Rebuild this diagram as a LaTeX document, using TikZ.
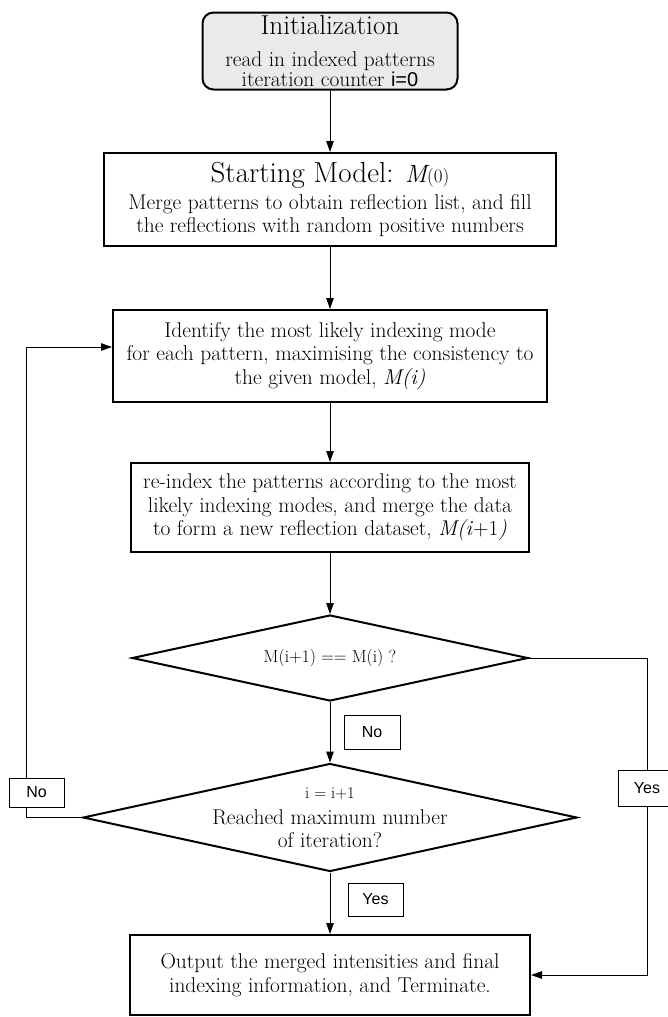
\documentclass[tikz,border=0pt]{standalone}
\usepackage{fontspec}
\setsansfont{Liberation Sans}
\usepackage{xcolor}
\usetikzlibrary{shapes.geometric, arrows.meta, positioning, calc}

\definecolor{initgray}{RGB}{234,234,234}

\tikzset{
    procbox/.style={draw, rectangle, line width=2pt, align=center, inner sep=0pt,
        font=\fontsize{21.4}{23.5}\selectfont},
    initbox/.style={procbox, rounded corners=11pt, fill=initgray},
    decbox/.style={draw, diamond, aspect=4.6, line width=2pt, align=center, inner sep=-8pt,
        font=\fontsize{21.4}{23}\selectfont},
    lblbox/.style={draw, rectangle, line width=0.8pt, fill=white, inner sep=0pt,
        minimum width=55pt, minimum height=33pt, font=\sffamily\fontsize{16}{16}\selectfont},
    conn/.style={line width=1pt},
    arr/.style={conn, -{Triangle[length=11pt,width=7.5pt]}}
}

\begin{document}
\begin{tikzpicture}[x=1pt, y=-1pt]
\useasboundingbox (0,0) rectangle (667,1017);
% Process boxes
\node[initbox, minimum width=255pt, minimum height=77pt, font=\fontsize{21.4}{18}\selectfont] (init) at (330,51)
    {{\fontsize{27.3}{27.3}\selectfont Initialization}\\[14pt]
     read in indexed patterns\\
     iteration counter \textsf{\fontsize{20}{18}\selectfont i=0}};
\node[procbox, minimum width=452pt, minimum height=93pt] (start) at (330,199.5)
    {{\fontsize{29}{29}\selectfont Starting Model: {\fontsize{25}{25}\selectfont\itshape M}{\fontsize{19}{19}\selectfont(0)}}\\[3pt]
     Merge patterns to obtain reflection list, and fill\\
     the reflections with random positive numbers};
\node[procbox, minimum width=434pt, minimum height=92pt] (ident) at (330,356)
    {Identify the most likely indexing mode\\
     for each pattern, maximising the consistency to\\
     the given model, \textit{M(i)}};
\node[procbox, minimum width=398pt, minimum height=89pt] (reidx) at (330,507.5)
    {re-index the patterns according to the most\\
     likely indexing modes, and merge the data\\
     to form a new reflection dataset, \textit{M(i}+1\textit{)}};
% Decisions
\node[decbox, minimum width=396pt, minimum height=86pt, font=\fontsize{17.5}{20}\selectfont] (dec1) at (330,658)
    {M(i+1) == M(i) ?};
\node[decbox, minimum width=494pt, minimum height=108pt] (dec2) at (330,817.5)
    {{\fontsize{16.5}{16.5}\selectfont i = i+1}\\[3pt]
     Reached maximum number\\
     of iteration?};
% Final box
\node[procbox, minimum width=400pt, minimum height=80pt] (out) at (330,975)
    {Output the merged intensities and final\\
     indexing information, and Terminate.};
% Main flow
\foreach \a/\b in {init/start, start/ident, ident/reidx, reidx/dec1, dec1/dec2, dec2/out}
    \draw[arr] (\a) -- (\b);
% Side loops
\coordinate (noline) at (26,0);
\coordinate (yesline) at (647,0);
\coordinate (back) at ([yshift=9pt]ident.west);
\draw[arr] (dec2.west) -| (noline |- back) -- (back);
\draw[arr] (dec1.east) -| (yesline |- out.east) -- (out.east);
% Labels
\node[lblbox, minimum width=56pt, minimum height=34pt] (no1) at (372,732) {No};
\node[lblbox] (yes1) at (375.5,899.5) {Yes};
\node[lblbox, minimum height=29pt] (no2) at (36.5,792.5) {No};
\node[lblbox, minimum width=58pt, minimum height=36pt] (yes2) at (647,788) {Yes};
\end{tikzpicture}
\end{document}
